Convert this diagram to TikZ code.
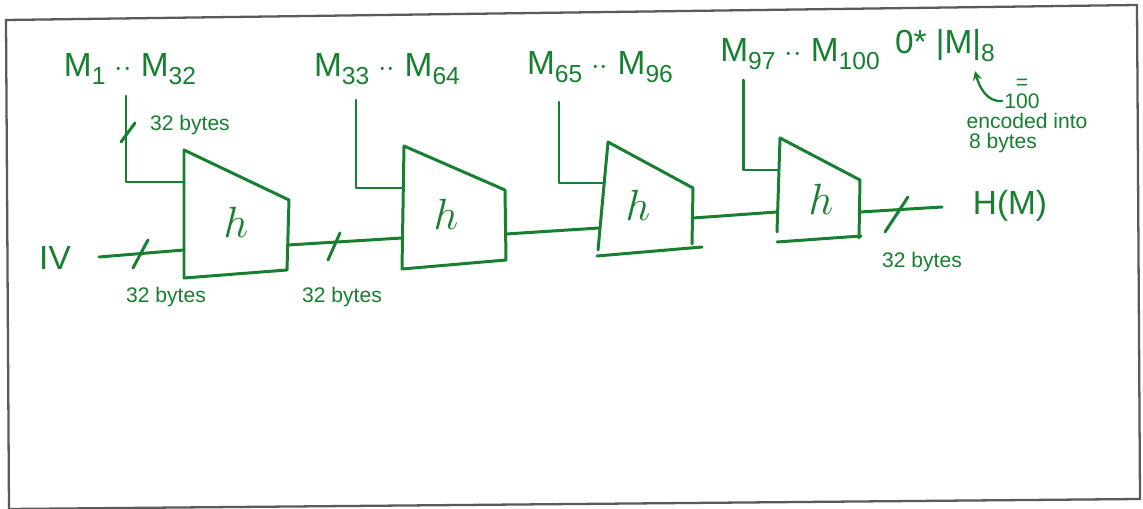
\documentclass[tikz,border=0pt]{standalone}
\usepackage{fontspec}
\setmainfont{Liberation Sans}
\usetikzlibrary{positioning}

\definecolor{ink}{RGB}{22,128,48}
\definecolor{frame}{RGB}{90,90,90}
\newcommand{\lowtext}[1]{\raisebox{-0.45ex}{\fontsize{14}{14}\selectfont #1}}

\tikzset{
  wire/.style={ink, line width=1.7pt, line cap=round, line join=round},
  lbl/.style={ink, inner sep=1pt, font=\fontsize{19}{21}\selectfont},
  note/.style={ink, inner sep=1pt, font=\fontsize{12}{14}\selectfont},
  hsym/.style={ink, inner sep=1pt, font=\fontsize{24}{24}\selectfont},
}

\begin{document}
\begin{tikzpicture}[x=0.02cm, y=-0.02cm, >=stealth]
  \useasboundingbox (0,0) rectangle (1143,509);

  % Paper frame
  \draw[frame, line width=1.3pt] (9,509) -- (6,20) -- (1137,5) -- (1140,499) -- (9,509);

  % Message blocks
  \node[lbl] (m1)  at (130,69) {M\lowtext{1} $\cdot\cdot$ M\lowtext{32}};
  \node[lbl] (m2)  at (387,69) {M\lowtext{33} $\cdot\cdot$ M\lowtext{64}};
  \node[lbl] (m3)  at (600,67) {M\lowtext{65} $\cdot\cdot$ M\lowtext{96}};
  \node[lbl] (m4)  at (800,54) {M\lowtext{97} $\cdot\cdot$ M\lowtext{100}};
  \node[lbl] (pad) at (945,46) {0* |M|\lowtext{8}};

  % Length note
  \node[note] (hundred) at (1022,101) {100};
  \node[note, above=1pt of hundred, inner sep=0pt] (eq) {=};
  \node[note] (enc)     at (1027,121) {encoded into};
  \node[note] (eight)   at (1003,143) {8 bytes};
  \draw[->, wire, line width=1.3pt] (hundred.west) to[out=185, in=-75] (975,71);

  % Compression block 1
  \draw[wire] (184,150) -- (289,200) -- (287,270) -- (184,278) -- cycle;
  \node[hsym] (h1) at (236,222) {$h$};
  \coordinate (b1m)   at (184,182);
  \coordinate (b1in)  at (184,250);
  \coordinate (b1out) at (288,245);

  % Compression block 2
  \draw[wire] (404,146) -- (505,190) -- (506,260) -- (402,269) -- cycle;
  \node[hsym] (h2) at (446,214) {$h$};
  \coordinate (b2m)   at (403,188);
  \coordinate (b2in)  at (402,238);
  \coordinate (b2out) at (506,234);

  % Compression block 3
  \draw[wire] (692,244) -- (693,188) -- (608,142) -- (598,250);
  \draw[wire] (597,256) -- (702,247);
  \node[hsym] (h3) at (638,205) {$h$};
  \coordinate (b3m)   at (604,183);
  \coordinate (b3in)  at (599,228);
  \coordinate (b3out) at (693,218);

  % Compression block 4
  \draw[wire] (859,238) -- (860,180) -- (780,138) -- (777,232);
  \draw[wire] (777,242) -- (861,236);
  \node[hsym] (h4) at (821,199) {$h$};
  \coordinate (b4m)   at (778,170);
  \coordinate (b4in)  at (777,212);
  \coordinate (b4out) at (860,212);

  % Message inputs
  \coordinate (m1end) at (126,96);
  \coordinate (m2end) at (356,100);
  \coordinate (m3end) at (559,102);
  \coordinate (m4end) at (743,80);
  \draw[wire] (m1end) |- (b1m);
  \draw[wire] (m2end) |- (b2m);
  \draw[wire] (m3end) |- (b3m);
  \draw[wire] (m4end) |- (b4m);
  \draw[wire] (121,142) -- (135,123);
  \node[note, anchor=west] (w1) at (148,125) {32 bytes};

  % Chaining values
  \node[lbl] (iv) at (55,258) {IV};
  \coordinate (ivend) at (99,257);
  \draw[wire] (ivend) -- (b1in);
  \draw[wire] (133,268) -- (148,240);
  \node[note] (w2) at (166,297) {32 bytes};

  \draw[wire] (b1out) -- (b2in);
  \draw[wire] (328,260) -- (340,233);
  \node[note] (w3) at (342,297) {32 bytes};

  \draw[wire] (b2out) -- (b3in);
  \draw[wire] (b3out) -- (b4in);

  % Output
  \node[lbl] (hm) at (1010,206) {H(M)};
  \coordinate (hmend) at (942,207);
  \draw[wire] (b4out) -- (hmend);
  \draw[wire] (885,232) -- (908,197);
  \node[note] (w4) at (922,262) {32 bytes};

\end{tikzpicture}
\end{document}
